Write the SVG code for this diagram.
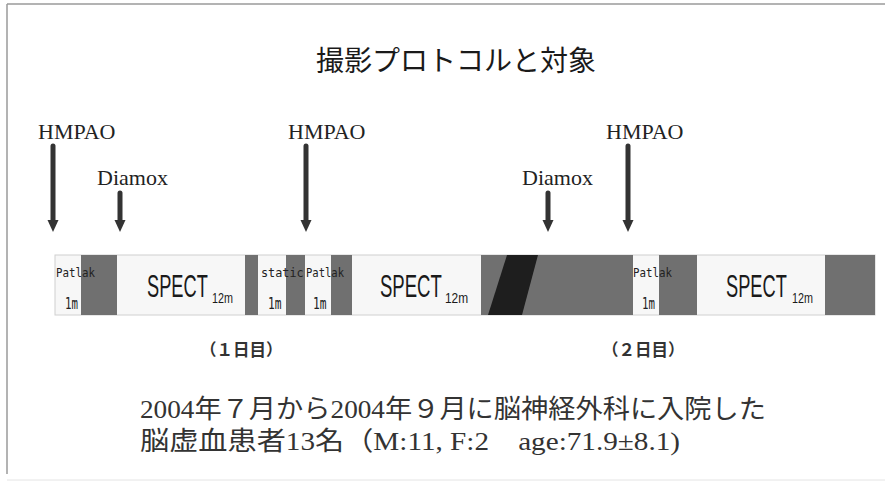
<svg xmlns="http://www.w3.org/2000/svg" width="885" height="482" viewBox="0 0 885 482">
<style>
.frame{stroke:#9a9a9a;stroke-width:1.5;fill:none}
.title{font-family:"Noto Sans CJK JP",sans-serif;font-size:28px;fill:#1a1a1a}
.lbl{font-family:"Liberation Serif","Times New Roman",serif;font-size:22px;fill:#222}
.gcell{fill:#707070}
.dark{fill:#1e1e1e}
.small{font-family:"DejaVu Sans Mono","Liberation Mono",monospace;font-size:13px;fill:#222}
.one{font-family:"DejaVu Sans Mono","Liberation Mono",monospace;font-size:15px;fill:#222}
.spect{font-family:"Liberation Sans",Arial,sans-serif;font-size:32px;fill:#1a1a1a}
.sub{font-family:"Liberation Sans",Arial,sans-serif;font-size:14px;fill:#1a1a1a}
.day{font-family:"Noto Sans CJK JP",sans-serif;font-size:16.5px;font-weight:bold;fill:#333}
.body{font-family:"Liberation Serif","Noto Sans CJK JP",serif;font-size:26px;fill:#333}
.shaft{stroke:#333;stroke-width:5;stroke-linecap:round}
.head{fill:#333}
</style>
<g id="frame">
<line class="frame" x1="7" y1="4" x2="885" y2="4"/>
<line class="frame" x1="7" y1="4" x2="7" y2="474"/>
<line x1="7" y1="480" x2="885" y2="480" stroke="#e4e4e4" stroke-width="1"/>
</g>
<g id="title"><text class="title" x="456" y="71" text-anchor="middle">撮影プロトコルと対象</text></g>

<g id="timeline">
<rect x="55" y="255" width="820" height="60" fill="#f7f7f7" stroke="#d0d0d0" stroke-width="1"/>
<rect class="gcell" x="81" y="255" width="36" height="60"/>
<rect class="gcell" x="245" y="255" width="13" height="60"/>
<rect class="gcell" x="286" y="255" width="19" height="60"/>
<rect class="gcell" x="331" y="255" width="21" height="60"/>
<rect class="gcell" x="481" y="255" width="152" height="60"/>
<polygon class="dark" points="507,255 538,255 522,315 488,315"/>
<rect class="gcell" x="659" y="255" width="38" height="60"/>
<rect class="gcell" x="825" y="255" width="50" height="60"/>
</g>

<g id="day1-patlak">
<text class="small" transform="translate(56,277) scale(0.83,1)">Patlak</text>
<text class="one" transform="translate(65,309) scale(0.72,1)">1m</text>
</g>
<g id="day1-spect">
<text class="spect" transform="translate(147,297) scale(0.57,1)">SPECT</text>
<text class="sub" transform="translate(212,303) scale(0.77,1)">12m</text>
</g>
<g id="day1-static">
<text class="small" transform="translate(261,277) scale(0.91,1)">static</text>
<text class="one" transform="translate(268,309) scale(0.75,1)">1m</text>
</g>
<g id="day1-patlak2">
<text class="small" transform="translate(306,277) scale(0.81,1)">Patlak</text>
<text class="one" transform="translate(313,309) scale(0.75,1)">1m</text>
</g>
<g id="day1-spect2">
<text class="spect" transform="translate(380,297) scale(0.58,1)">SPECT</text>
<text class="sub" transform="translate(445,303) scale(0.85,1)">12m</text>
</g>
<g id="day2-patlak">
<text class="small" transform="translate(633,277) scale(0.83,1)">Patlak</text>
<text class="one" transform="translate(642,309) scale(0.72,1)">1m</text>
</g>
<g id="day2-spect">
<text class="spect" transform="translate(726,297) scale(0.57,1)">SPECT</text>
<text class="sub" transform="translate(792,303) scale(0.77,1)">12m</text>
</g>

<g id="hmpao1"><text class="lbl" x="38" y="139">HMPAO</text></g>
<g id="diamox1"><text class="lbl" x="97" y="185">Diamox</text></g>
<g id="hmpao2"><text class="lbl" x="288" y="139">HMPAO</text></g>
<g id="diamox2"><text class="lbl" x="522" y="185">Diamox</text></g>
<g id="hmpao3"><text class="lbl" x="606" y="139">HMPAO</text></g>

<g id="connectors">
<line class="shaft" x1="53" y1="146" x2="53" y2="222"/>
<polygon class="head" points="47.5,220 58.5,220 53,232"/>
<line class="shaft" x1="120" y1="193" x2="120" y2="222"/>
<polygon class="head" points="114.5,220 125.5,220 120,232"/>
<line class="shaft" x1="306" y1="146" x2="306" y2="222"/>
<polygon class="head" points="300.5,220 311.5,220 306,232"/>
<line class="shaft" x1="548" y1="193" x2="548" y2="222"/>
<polygon class="head" points="542.5,220 553.5,220 548,232"/>
<line class="shaft" x1="628" y1="146" x2="628" y2="222"/>
<polygon class="head" points="622.5,220 633.5,220 628,232"/>
</g>

<g id="day1"><text class="day" x="200" y="356">（１日目）</text></g>
<g id="day2"><text class="day" x="602" y="356">（２日目）</text></g>

<g id="subjects">
<text class="body" x="140" y="418" textLength="626" lengthAdjust="spacingAndGlyphs">2004年７月から2004年９月に脳神経外科に入院した</text>
<text class="body" x="140" y="450" textLength="540" lengthAdjust="spacingAndGlyphs">脳虚血患者13名（M:11, F:2　age:71.9±8.1)</text>
</g>
</svg>
